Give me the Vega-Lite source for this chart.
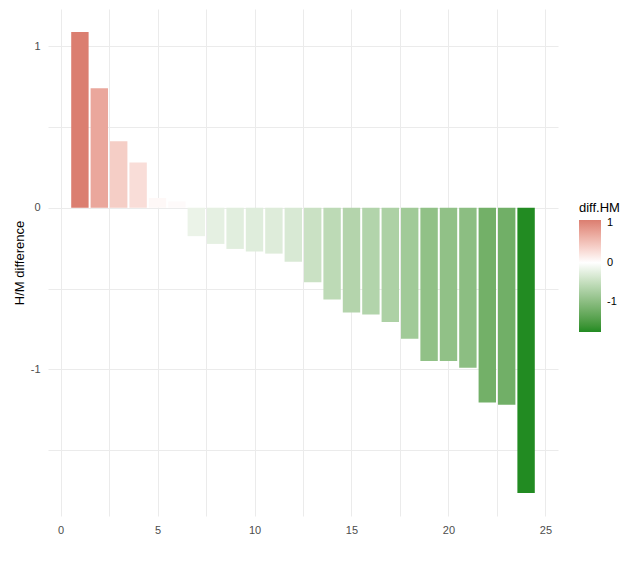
{
  "$schema": "https://vega.github.io/schema/vega-lite/v6.json",
  "width": 510,
  "height": 507,
  "autosize": {"type": "none"},
  "padding": {"left": 48, "top": 9, "right": 64, "bottom": 51},
  "background": "white",
  "config": {
    "view": {"stroke": null},
    "font": "Liberation Sans",
    "axis": {
      "domain": false,
      "ticks": false,
      "gridColor": "#EBEBEB",
      "gridWidth": 1,
      "labelColor": "#4D4D4D",
      "labelFontSize": 11,
      "titleColor": "#000000",
      "titleFontSize": 13,
      "titleFontWeight": "normal"
    },
    "legend": {
      "titleFontSize": 13,
      "titleFontWeight": "normal",
      "titleColor": "#000000",
      "labelFontSize": 11,
      "labelColor": "#000000"
    }
  },
  "data": {
    "values": [
      {"id": 1, "diff.HM": 1.087},
      {"id": 2, "diff.HM": 0.739},
      {"id": 3, "diff.HM": 0.412},
      {"id": 4, "diff.HM": 0.280},
      {"id": 5, "diff.HM": 0.060},
      {"id": 6, "diff.HM": 0.039},
      {"id": 7, "diff.HM": -0.176},
      {"id": 8, "diff.HM": -0.224},
      {"id": 9, "diff.HM": -0.255},
      {"id": 10, "diff.HM": -0.271},
      {"id": 11, "diff.HM": -0.284},
      {"id": 12, "diff.HM": -0.334},
      {"id": 13, "diff.HM": -0.461},
      {"id": 14, "diff.HM": -0.568},
      {"id": 15, "diff.HM": -0.648},
      {"id": 16, "diff.HM": -0.661},
      {"id": 17, "diff.HM": -0.708},
      {"id": 18, "diff.HM": -0.811},
      {"id": 19, "diff.HM": -0.949},
      {"id": 20, "diff.HM": -0.949},
      {"id": 21, "diff.HM": -0.990},
      {"id": 22, "diff.HM": -1.206},
      {"id": 23, "diff.HM": -1.220},
      {"id": 24, "diff.HM": -1.765}
    ]
  },
  "mark": {"type": "bar", "width": 17.4},
  "encoding": {
    "x": {
      "field": "id",
      "type": "quantitative",
      "scale": {"domain": [-0.645, 25.645], "nice": false, "zero": false, "padding": 0},
      "axis": {
        "title": null,
        "values": [0, 2.5, 5, 7.5, 10, 12.5, 15, 17.5, 20, 22.5, 25],
        "labelExpr": "datum.value % 5 === 0 ? '' + datum.value : ''",
        "labelPadding": 8,
        "labelFlush": false
      }
    },
    "y": {
      "field": "diff\\.HM",
      "type": "quantitative",
      "scale": {"domain": [-1.908, 1.23], "nice": false, "zero": false, "padding": 0},
      "axis": {
        "title": "H/M difference",
        "values": [-1.5, -1, -0.5, 0, 0.5, 1],
        "labelExpr": "datum.value % 1 === 0 ? '' + datum.value : ''",
        "labelPadding": 8,
        "titlePadding": 4,
        "labelFlush": false
      }
    },
    "y2": {"datum": 0},
    "color": {
      "field": "diff\\.HM",
      "type": "quantitative",
      "title": "diff.HM",
      "scale": {
        "domain": [-1.765, 0, 1.087],
        "range": ["#228B22", "#FFFFFF", "#DB7E70"],
        "interpolate": "lab"
      },
      "legend": {
        "orient": "none",
        "legendX": 531,
        "legendY": 193,
        "gradientLength": 112,
        "gradientThickness": 22,
        "values": [-1, 0, 1],
        "labelExpr": "'' + datum.value",
        "labelOffset": 6,
        "gradientStrokeWidth": 0
      }
    }
  }
}
